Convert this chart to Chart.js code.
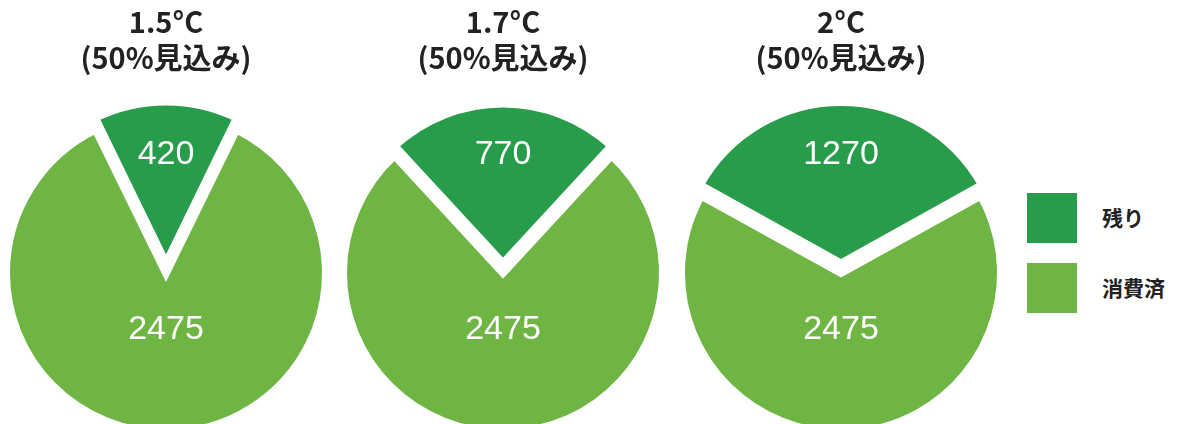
<!DOCTYPE html>
<html>
<head>
<meta charset="utf-8">
<script src="https://cdn.jsdelivr.net/npm/chart.js@4/dist/chart.umd.min.js"></script>
<style>
  html, body { margin: 0; padding: 0; background: #fff; }
  body { width: 1179px; height: 424px; position: relative; overflow: hidden; }
  .pie { position: absolute; top: 0; width: 340px; height: 458px; }
  .legend { position: absolute; left: 1027px; font-family: "Noto Sans CJK JP", sans-serif; font-weight: 700; font-size: 21px; color: #222; }
  .legend div { position: absolute; width: 50px; height: 50px; }
  .legend span { position: absolute; left: 75px; top: 10px; white-space: nowrap; line-height: 28px; }
</style>
</head>
<body>
<div class="pie" style="left:-4px"><canvas id="pie0" width="340" height="458"></canvas></div>
<div class="pie" style="left:333px"><canvas id="pie1" width="340" height="458"></canvas></div>
<div class="pie" style="left:671px"><canvas id="pie2" width="340" height="458"></canvas></div>
<div id="legend"></div>
<script>
// data (Gt CO2 budget)
const scenarios = ['1.5°C', '1.7°C', '2°C'];
const subtitle = '(50%見込み)';
const seriesNames = ['残り', '消費済'];
const remaining = [420, 770, 1270];
const consumed = [2475, 2475, 2475];
const colors = ['#279c4a', '#6eb543'];

const labelPlugin = {
    id: 'sliceLabels',
    afterDatasetsDraw(chart) {
        const ctx = chart.ctx;
        const meta = chart.getDatasetMeta(0);
        const dist = [0.74, 0.355];
        ctx.save();
        ctx.fillStyle = '#fff';
        ctx.font = '34px "Liberation Sans", Arial, sans-serif';
        ctx.textAlign = 'center';
        ctx.textBaseline = 'middle';
        meta.data.forEach((arc, i) => {
            const mid = (arc.startAngle + arc.endAngle) / 2;
            const r = arc.outerRadius * dist[i];
            const x = arc.x + Math.cos(mid) * r;
            const y = arc.y + Math.sin(mid) * r;
            ctx.fillText(String(chart.data.datasets[0].data[i]), x, y);
        });
        ctx.restore();
    }
};

scenarios.forEach((name, i) => {
    const ctx = document.getElementById('pie' + i).getContext('2d');
    const share = remaining[i] / (remaining[i] + consumed[i]);
    new Chart(ctx, {
        type: 'pie',
        data: {
            labels: seriesNames,
            datasets: [{
                data: [remaining[i], consumed[i]],
                backgroundColor: colors,
                borderColor: '#ffffff',
                borderWidth: 8,
                borderJoinStyle: 'miter',
                offset: [38, 0],
                hoverOffset: 0
            }]
        },
        options: {
            responsive: false,
            animation: false,
            rotation: -180 * share,
            radius: 160,
            layout: { padding: 0 },
            plugins: {
                legend: { display: false },
                tooltip: { enabled: false },
                title: {
                    display: true,
                    text: [name, subtitle],
                    color: '#222',
                    font: { family: '"Noto Sans CJK JP", sans-serif', size: 29, weight: 'bold', lineHeight: 1.24 },
                    padding: { top: 4, bottom: 12 }
                }
            }
        },
        plugins: [labelPlugin]
    });
});

// legend
const legend = document.getElementById('legend');
legend.className = 'legend';
seriesNames.forEach((n, i) => {
    const box = document.createElement('div');
    box.style.top = (193 + i * 70) + 'px';
    box.style.background = colors[i];
    const txt = document.createElement('span');
    txt.textContent = n;
    box.appendChild(txt);
    legend.appendChild(box);
});
</script>
</body>
</html>
